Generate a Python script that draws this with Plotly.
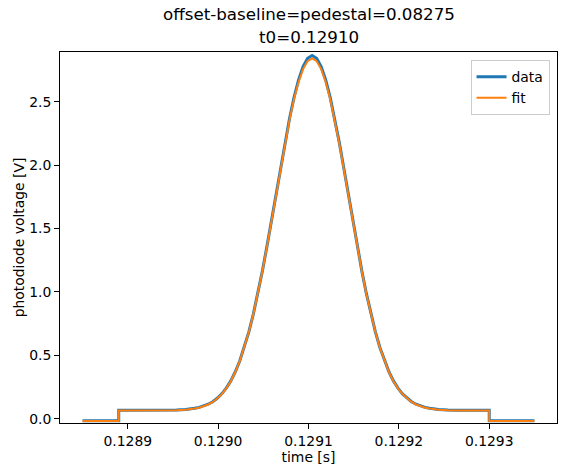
import plotly.graph_objects as go

# time samples [s]; repeated values make the vertical edges of the pedestal
time_s = [
    0.128850, 0.128890, 0.128890, 0.128920,
    0.128944, 0.128954, 0.128964, 0.128969, 0.128974, 0.128979, 0.128984,
    0.128989, 0.128994, 0.128999, 0.129004, 0.129009, 0.129014, 0.129019,
    0.129024, 0.129029, 0.129034, 0.129039, 0.129044, 0.129049, 0.129054,
    0.129059, 0.129064, 0.129069, 0.129074, 0.129079, 0.129084, 0.129089,
    0.129094, 0.129099, 0.129104, 0.129109, 0.129114, 0.129119, 0.129124,
    0.129129, 0.129134, 0.129139, 0.129144, 0.129149, 0.129154, 0.129159,
    0.129164, 0.129169, 0.129174, 0.129179, 0.129184, 0.129189, 0.129194,
    0.129199, 0.129204, 0.129209, 0.129214, 0.129219, 0.129224, 0.129229,
    0.129234, 0.129239, 0.129244, 0.129254, 0.129264,
    0.129300, 0.129300, 0.129350,
]

# fitted photodiode voltage [V]
fit_v = [
    -0.018, -0.018, 0.064, 0.064,
    0.065, 0.067, 0.071, 0.074, 0.080, 0.087, 0.098,
    0.112, 0.132, 0.159, 0.194, 0.239, 0.296, 0.368,
    0.455, 0.560, 0.683, 0.825, 0.986, 1.163, 1.355,
    1.557, 1.765, 1.972, 2.172, 2.357, 2.521, 2.656,
    2.757, 2.820, 2.841, 2.820, 2.757, 2.656, 2.521,
    2.357, 2.172, 1.972, 1.765, 1.557, 1.355, 1.163,
    0.986, 0.825, 0.683, 0.560, 0.455, 0.368, 0.296,
    0.239, 0.194, 0.159, 0.132, 0.112, 0.098, 0.087,
    0.080, 0.074, 0.071, 0.067, 0.065,
    0.064, -0.018, -0.018,
]

# measured photodiode voltage [V]
data_v = [
    -0.016, -0.016, 0.066, 0.066,
    0.067, 0.069, 0.073, 0.076, 0.082, 0.089, 0.100,
    0.114, 0.134, 0.161, 0.196, 0.241, 0.298, 0.370,
    0.457, 0.562, 0.685, 0.827, 0.988, 1.166, 1.359,
    1.562, 1.771, 1.979, 2.181, 2.368, 2.534, 2.672,
    2.776, 2.842, 2.864, 2.842, 2.776, 2.672, 2.534,
    2.368, 2.181, 1.979, 1.771, 1.562, 1.359, 1.166,
    0.988, 0.827, 0.685, 0.562, 0.457, 0.370, 0.298,
    0.241, 0.196, 0.161, 0.134, 0.114, 0.100, 0.089,
    0.082, 0.076, 0.073, 0.069, 0.067,
    0.066, -0.016, -0.016,
]

x_ticks = [0.1289, 0.1290, 0.1291, 0.1292, 0.1293]
x_tick_labels = ["0.1289", "0.1290", "0.1291", "0.1292", "0.1293"]
y_ticks = [0.0, 0.5, 1.0, 1.5, 2.0, 2.5]
y_tick_labels = ["0.0", "0.5", "1.0", "1.5", "2.0", "2.5"]

title_lines = ["offset-baseline=pedestal=0.08275", "t0=0.12910"]

FONT = "DejaVu Sans"
LABEL_FONT = dict(family=FONT, size=13.9, color="black")

fig = go.Figure()

fig.add_trace(go.Scatter(
    x=time_s, y=data_v, mode="lines", name="data",
    line=dict(color="#1f77b4", width=3),
))
fig.add_trace(go.Scatter(
    x=time_s, y=fit_v, mode="lines", name="fit",
    line=dict(color="#ff7f0e", width=2),
))

# two-line title drawn as annotations above the axes
for text, ypos in zip(title_lines, [1.102, 1.040]):
    fig.add_annotation(
        text=text, xref="paper", yref="paper", x=0.5, y=ypos,
        xanchor="center", yanchor="middle", showarrow=False,
        font=dict(family=FONT, size=16.7, color="black"),
    )

fig.update_layout(
    width=567, height=476,
    margin=dict(l=60, r=10, t=52, b=53),
    paper_bgcolor="white",
    plot_bgcolor="white",
    font=LABEL_FONT,
    legend=dict(
        x=0.985, y=0.978, xanchor="right", yanchor="top",
        bgcolor="rgba(255,255,255,0.8)",
        bordercolor="#cccccc", borderwidth=1,
        font=LABEL_FONT,
        tracegroupgap=0,
    ),
    showlegend=True,
)

fig.update_xaxes(
    range=[0.128825, 0.129375], automargin=False,
    tickvals=x_ticks, ticktext=x_tick_labels, tickfont=LABEL_FONT,
    ticks="outside", ticklen=5, tickwidth=1, tickcolor="black",
    showline=True, linecolor="black", linewidth=1, mirror=True,
    showgrid=False, zeroline=False,
    title=dict(text="time [s]", standoff=4, font=LABEL_FONT),
)
fig.update_yaxes(
    range=[-0.034, 2.892], automargin=False,
    tickvals=y_ticks, ticktext=y_tick_labels, tickfont=LABEL_FONT,
    ticks="outside", ticklen=5, tickwidth=1, tickcolor="black",
    showline=True, linecolor="black", linewidth=1, mirror=True,
    showgrid=False, zeroline=False,
    title=dict(text="photodiode voltage [V]", standoff=1, font=LABEL_FONT),
)

fig.write_html(
    "out.html",
    config={"displayModeBar": False},
    post_script="document.body.style.margin='0';",
)
